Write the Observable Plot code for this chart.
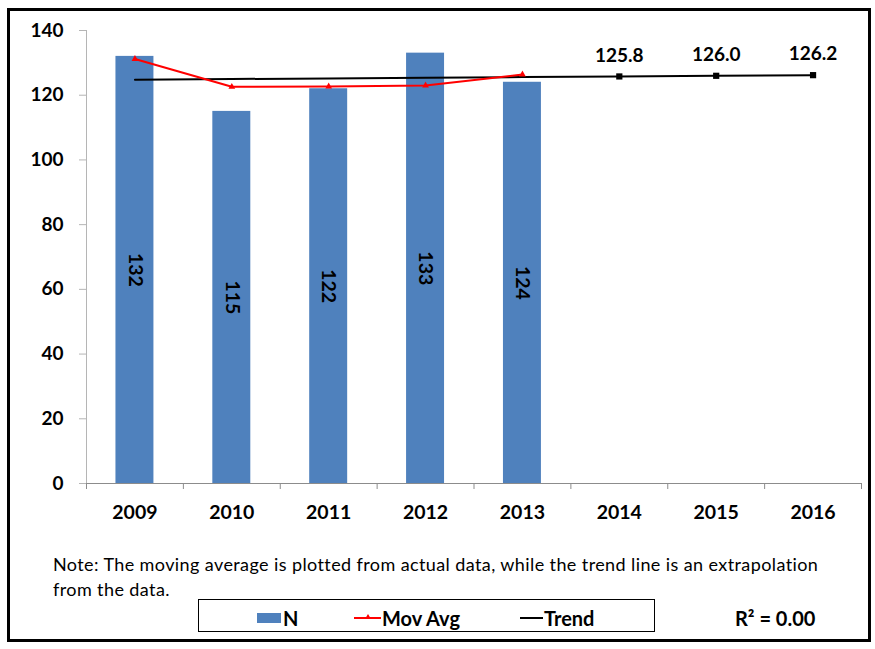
<!DOCTYPE html>
<html><head><meta charset="utf-8">
<script src="https://cdn.jsdelivr.net/npm/d3@7"></script>
<script src="https://cdn.jsdelivr.net/npm/@observablehq/plot@0.6"></script>
<style>
body{margin:0;width:875px;height:649px;position:relative;background:#fff;font-family:Lato,sans-serif;overflow:hidden;color:#000}
#chart{position:absolute;left:0;top:0}
.frame{position:absolute;left:7px;top:8px;width:864px;height:634px;border:3px solid #000;box-sizing:border-box;pointer-events:none}
.note{position:absolute;left:53px;top:552px;font-size:18px;letter-spacing:0.4px;line-height:25px;width:790px}
.legend{position:absolute;left:198px;top:599px;width:457px;height:33px;border:1px solid #000;box-sizing:border-box;background:#fff}
.lg{position:absolute;font-weight:bold;font-size:20px;line-height:20px}
.sw{position:absolute}
.r2{position:absolute;left:735px;top:606px;font-weight:bold;font-size:20px;line-height:24px}
</style>
</head><body>
<div id="chart"></div>
<div class="note"></div>
<div class="legend"></div>
<div class="r2"></div>
<div class="frame"></div>
<script>
const years = ["2009","2010","2011","2012","2013","2014","2015","2016"];
const actualYears = ["2009","2010","2011","2012","2013"];
const nValues = [132, 115, 122, 133, 124];
const movAvgValues = [131.2, 122.6, 122.7, 123.0, 126.4];
const trendValues = [124.8, 125.0, 125.2, 125.4, 125.6, 125.8, 126.0, 126.2];
const forecastYears = ["2014","2015","2016"];
const forecastValues = [125.8, 126.0, 126.2];
const yTicks = [0, 20, 40, 60, 80, 100, 120, 140];
const seriesNames = ["N", "Mov Avg", "Trend"];
const noteText = "Note: The moving average is plotted from actual data, while the trend line is an extrapolation from the data.";
const r2Text = "R² = 0.00";

const W = 875, H = 530, ML = 86, MR = 14, MT = 30, MB = 47;
const step = (W - ML - MR) / years.length;
const barBlue = "#4f81bd";

const bars = actualYears.map((year, i) => ({year, n: nValues[i]}));
const mov = actualYears.map((year, i) => ({year, v: movAvgValues[i]}));
const trend = years.map((year, i) => ({year, v: trendValues[i]}));
const forecast = forecastYears.map((year, i) => ({year, v: forecastValues[i]}));

const chart = Plot.plot({
  width: W, height: H,
  marginLeft: ML, marginRight: MR, marginTop: MT, marginBottom: MB,
  x: {type: "band", domain: years, paddingInner: 0.608, paddingOuter: 0.304, align: 0.5, round: false, label: null},
  y: {domain: [0, 140], label: null},
  style: {fontFamily: "Lato, sans-serif", background: "transparent", color: "#000"},
  marks: [
    Plot.barY(bars, {x: "year", y: "n", fill: barBlue}),
    Plot.frame({anchor: "left", stroke: "#b5b5b5"}),
    Plot.ruleY([0], {stroke: "#8c8c8c"}),
    Plot.ruleX(years, {x: d => d, y1: 0, y2: 0, insetBottom: -6, dx: -step / 2, stroke: "#8c8c8c"}),
    Plot.ruleX(years.slice(-1), {x: d => d, y1: 0, y2: 0, insetBottom: -6, dx: step / 2, stroke: "#8c8c8c"}),
    Plot.axisY({ticks: yTicks, tickSize: 7, tickPadding: 16, fontSize: 19, fontWeight: "bold", stroke: "#b5b5b5", label: null}),
    Plot.axisX({tickSize: 0, tickPadding: 22, fontSize: 19.5, fontWeight: "bold", label: null}),
    Plot.text(bars, {x: "year", y: d => d.n / 2, text: d => String(d.n), rotate: 90, fontSize: 19.5, fontWeight: "bold", fill: "#000"}),
    Plot.line(trend, {x: "year", y: "v", stroke: "#000", strokeWidth: 2}),
    Plot.line(mov, {x: "year", y: "v", stroke: "#ff0000", strokeWidth: 2}),
    Plot.dot(mov, {x: "year", y: "v", symbol: "triangle", r: 2.5, fill: "#ff0000"}),
    Plot.dot(forecast, {x: "year", y: "v", symbol: "square", r: 3.5, fill: "#000"}),
    Plot.text(forecast, {x: "year", y: "v", text: d => d.v.toFixed(1), dy: -21, fontSize: 19, fontWeight: "bold", fill: "#000"})
  ]
});
document.getElementById("chart").appendChild(chart);

document.querySelector(".note").textContent = noteText;
document.querySelector(".r2").innerHTML = r2Text;

const legend = document.querySelector(".legend");
const L = 198, T = 599;
legend.innerHTML = `
  <div class="sw" style="left:${256-L}px;top:${612-T}px;width:24px;height:10px;background:${barBlue}"></div>
  <div class="lg" style="left:${282-L}px;top:${607-T}px">${seriesNames[0]}</div>
  <div class="sw" style="left:${353-L}px;top:${616-T}px;width:27px;height:2px;background:#ff0000"></div>
  <div class="sw" style="left:${364-L}px;top:${613-T}px;width:0;height:0;border-left:3px solid transparent;border-right:3px solid transparent;border-bottom:5px solid #ff0000"></div>
  <div class="lg" style="left:${381-L}px;top:${607-T}px">${seriesNames[1]}</div>
  <div class="sw" style="left:${519-L}px;top:${616-T}px;width:23px;height:2px;background:#000"></div>
  <div class="lg" style="left:${543-L}px;top:${607-T}px">${seriesNames[2]}</div>`;
</script>
</body></html>
